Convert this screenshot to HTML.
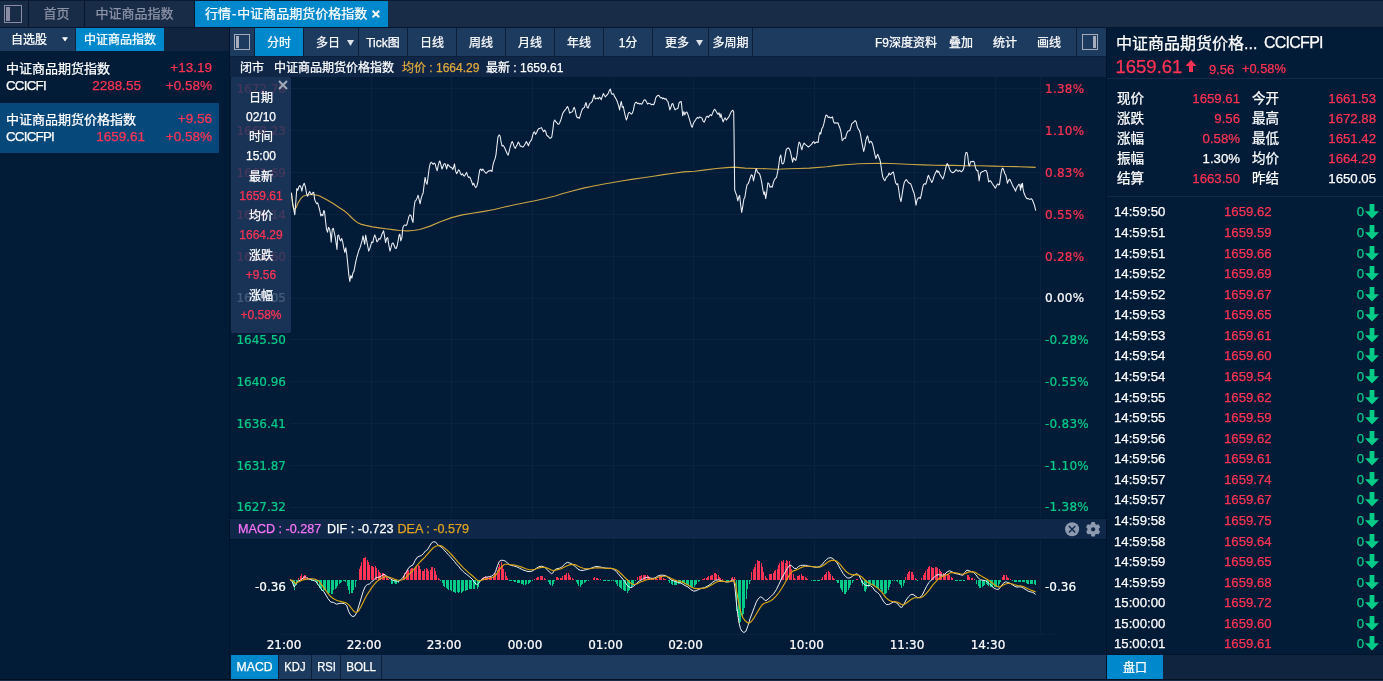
<!DOCTYPE html>
<html lang="zh-CN">
<head>
<meta charset="utf-8">
<title>行情-中证商品期货价格指数</title>
<style>
*{box-sizing:border-box;margin:0;padding:0}
html,body{width:1383px;height:681px;overflow:hidden;background:#021b36}
body{position:relative;font-family:"Liberation Sans","Noto Sans CJK SC",sans-serif;color:#fff;font-size:13px;-webkit-text-stroke:.25px}
.abs{position:absolute}
.t{position:absolute;white-space:nowrap;line-height:1}
.red{color:#ff3355}.grn{color:#00cc88}.wht{color:#fff}.gold{color:#e2a93b}
/* top bar */
#topbar{left:0;top:0;width:1383px;height:28px;background:#182b47;border-top:1px solid #0b1a30;border-bottom:1px solid #07162b}
.vsep{position:absolute;top:1px;width:1px;height:26px;background:#07162b}
.toptab{position:absolute;top:1px;height:26px;line-height:25px;font-size:13px;color:#8d93a6;text-align:center}
#acttab{left:195px;width:193px;background:#0088cc;color:#fff}
/* left panel */
#lrow{left:0;top:28px;width:229px;height:23px;background:#10233f}
.ltab{position:absolute;top:28px;height:23px;line-height:24px;font-size:12px}
.li{position:absolute;left:0;width:219px;height:50px}
.li .t{font-size:13px}
.li .t.lat{font-size:13.4px;letter-spacing:-.8px}
.li .t.num{font-size:13.5px}
/* toolbar */
#tbar{left:230px;top:28px;width:877px;height:28px;background:#1d3a5f}
.tb{position:absolute;top:28px;height:28px;line-height:31px;font-size:12px;text-align:center;color:#fff}
.tsep{position:absolute;top:28px;width:1px;height:28px;background:#0b1f3b}
#ibar{left:230px;top:57px;width:877px;height:20px;background:#0f2647}
#ibar .t{font-size:12px;top:5px}
/* tooltip */
#tip{left:231px;top:77px;width:60px;height:256px;background:rgba(30,57,93,.83);border-radius:2px;text-align:center}
#tip div{position:absolute;left:0;width:60px;font-size:12px;line-height:1;text-align:center}
/* macd bar */
#mbar{left:230px;top:519px;width:876px;height:20px;background:#0f2849}
#mbar .t{font-size:12.6px;top:4px}
/* bottom */
#bbar{left:230px;top:655px;width:877px;height:24px;background:#1d3a5f}
.bt{position:absolute;top:655px;height:24px;line-height:25px;font-size:12.6px;text-align:center;color:#fff}
.bt i{font-style:normal;display:inline-block;transform:scaleX(.89)}
.bsep{position:absolute;top:655px;width:1px;height:24px;background:#0b1f3b}
/* right panel */
#rp .t{font-size:13px}
.hl{position:absolute;height:1px;background:#12294a}
.q{position:absolute;font-size:13.2px;line-height:1;white-space:nowrap}
.qr{position:absolute;font-size:13.2px;line-height:1;white-space:nowrap;text-align:right}
.tk{position:absolute;left:1107px;width:276px;height:20px;font-size:13.2px;line-height:1}
.q.c{font-size:13.5px}
.tk span{position:absolute;top:0;white-space:nowrap}
.tk .a{left:7px;color:#fff}
.tk .b{left:117px;color:#ff3355}
.tk .c{right:19px;color:#00cc88}
.tk svg{position:absolute;right:4px;top:-1px}
</style>
</head>
<body>
<!-- TOP BAR -->
<div id="topbar" class="abs"></div>
<div class="vsep" style="left:28px"></div>
<div class="vsep" style="left:84px"></div>
<div class="vsep" style="left:194px"></div>
<svg class="abs" style="left:4px;top:5px" width="18" height="18"><rect x=".5" y=".5" width="17" height="17" fill="none" stroke="#8a8ca3"/><rect x="2" y="2" width="4" height="14" fill="#8a8ca3"/></svg>
<div class="toptab" style="left:29px;width:55px">首页</div>
<div class="toptab" style="left:85px;width:99px">中证商品指数</div>
<div class="toptab" id="acttab"><span style="position:absolute;left:10px">行情<span style="margin:0 1px">-</span>中证商品期货价格指数</span><span style="position:absolute;left:176.5px;font-size:15px;font-weight:bold">×</span></div>

<!-- LEFT PANEL -->
<div id="lrow" class="abs"></div>
<div class="ltab" style="left:0;width:75px;background:#1d3a5f"><span style="position:absolute;left:11px">自选股</span><svg style="position:absolute;left:62px;top:9px" width="7" height="5"><path d="M0 .3h6L3 4.4z" fill="#fff"/></svg></div>
<div class="ltab" style="left:76px;width:88px;background:#0088cc;text-align:center">中证商品指数</div>

<div class="li" style="top:53px">
  <span class="t" style="left:6px;top:8.5px">中证商品期货指数</span>
  <span class="t red num" style="right:7px;top:8.3px">+13.19</span>
  <span class="t lat" style="left:6px;top:26.3px">CCICFI</span>
  <span class="t red num" style="right:78px;top:26.3px">2288.55</span>
  <span class="t red num" style="right:7px;top:26.3px">+0.58%</span>
</div>
<div class="li" style="top:103px;background:#07487a">
  <span class="t" style="left:6px;top:9.5px">中证商品期货价格指数</span>
  <span class="t red num" style="right:7px;top:9.3px">+9.56</span>
  <span class="t lat" style="left:6px;top:27.3px">CCICFPI</span>
  <span class="t red num" style="right:74px;top:27.3px">1659.61</span>
  <span class="t red num" style="right:7px;top:27.3px">+0.58%</span>
</div>
<div class="abs" style="left:229px;top:28px;width:1px;height:651px;background:#01132a"></div>

<!-- TOOLBAR -->
<div id="tbar" class="abs"></div>
<div class="abs" style="left:230px;top:56px;width:877px;height:1px;background:#0b1f3b"></div>
<svg class="abs" style="left:234px;top:34px" width="16" height="16"><rect x=".5" y=".5" width="15" height="15" fill="none" stroke="#a5acbb"/><rect x="2" y="2" width="3" height="12" fill="#a5acbb"/></svg>
<div class="tsep" style="left:254px"></div>
<div class="tb" style="left:255px;width:48px;background:#0088cc">分时</div>
<div class="tsep" style="left:303px"></div>
<div class="tb" style="left:304px;width:54px"><span style="position:absolute;left:12px">多日</span><svg style="position:absolute;left:42.5px;top:11.5px" width="7" height="6"><path d="M0 0h7L3.5 6z" fill="#dde1e8"/></svg></div>
<div class="tsep" style="left:358px"></div>
<div class="tb" style="left:359px;width:48px">Tick图</div>
<div class="tsep" style="left:407px"></div>
<div class="tb" style="left:408px;width:48px">日线</div>
<div class="tsep" style="left:456px"></div>
<div class="tb" style="left:457px;width:48px">周线</div>
<div class="tsep" style="left:505px"></div>
<div class="tb" style="left:506px;width:48px">月线</div>
<div class="tsep" style="left:554px"></div>
<div class="tb" style="left:555px;width:48px">年线</div>
<div class="tsep" style="left:603px"></div>
<div class="tb" style="left:604px;width:48px">1分</div>
<div class="tsep" style="left:652px"></div>
<div class="tb" style="left:653px;width:55px"><span style="position:absolute;left:12px">更多</span><svg style="position:absolute;left:42.5px;top:11.5px" width="7" height="6"><path d="M0 0h7L3.5 6z" fill="#dde1e8"/></svg></div>
<div class="tsep" style="left:708px"></div>
<div class="tb" style="left:709px;width:43px">多周期</div>
<div class="tsep" style="left:752px"></div>
<div class="tb" style="left:875px">F9深度资料</div>
<div class="tb" style="left:949px">叠加</div>
<div class="tb" style="left:993px">统计</div>
<div class="tb" style="left:1037px">画线</div>
<div class="tsep" style="left:1076px"></div>
<svg class="abs" style="left:1082px;top:34px" width="16" height="16"><rect x=".5" y=".5" width="15" height="15" fill="none" stroke="#a5acbb"/><rect x="11" y="2" width="3" height="12" fill="#a5acbb"/></svg>

<!-- INFO BAR -->
<div id="ibar" class="abs">
  <span class="t" style="left:10px">闭市</span>
  <span class="t" style="left:44px">中证商品期货价格指数</span>
  <span class="t gold" style="left:172px">均价 : 1664.29</span>
  <span class="t" style="left:256px">最新 : 1659.61</span>
</div>

<!-- CHART SVG -->
<svg id="chart" class="abs" style="left:230px;top:77px" width="877" height="578" viewBox="230 77 877 578" font-family="'DejaVu Sans','Liberation Sans',sans-serif" font-size="12">
<g stroke="#0a2240" stroke-width="1" fill="none" shape-rendering="crispEdges"><line x1="290" x2="1040" y1="88.5" y2="88.5"/><line x1="290" x2="1040" y1="130.5" y2="130.5"/><line x1="290" x2="1040" y1="172.5" y2="172.5"/><line x1="290" x2="1040" y1="214.5" y2="214.5"/><line x1="290" x2="1040" y1="256.5" y2="256.5"/><line x1="290" x2="1040" y1="298.5" y2="298.5"/><line x1="290" x2="1040" y1="339.5" y2="339.5"/><line x1="290" x2="1040" y1="381.5" y2="381.5"/><line x1="290" x2="1040" y1="423.5" y2="423.5"/><line x1="290" x2="1040" y1="465.5" y2="465.5"/><line x1="290" x2="1040" y1="507.5" y2="507.5"/><line x1="371.5" x2="371.5" y1="77" y2="519"/><line x1="371.5" x2="371.5" y1="540" y2="634"/><line x1="451.5" x2="451.5" y1="77" y2="519"/><line x1="451.5" x2="451.5" y1="540" y2="634"/><line x1="532.5" x2="532.5" y1="77" y2="519"/><line x1="532.5" x2="532.5" y1="540" y2="634"/><line x1="613.5" x2="613.5" y1="77" y2="519"/><line x1="613.5" x2="613.5" y1="540" y2="634"/><line x1="693.5" x2="693.5" y1="77" y2="519"/><line x1="693.5" x2="693.5" y1="540" y2="634"/><line x1="814.5" x2="814.5" y1="77" y2="519"/><line x1="814.5" x2="814.5" y1="540" y2="634"/><line x1="914.5" x2="914.5" y1="77" y2="519"/><line x1="914.5" x2="914.5" y1="540" y2="634"/><line x1="995.5" x2="995.5" y1="77" y2="519"/><line x1="995.5" x2="995.5" y1="540" y2="634"/><line x1="1040.5" x2="1040.5" y1="77" y2="519"/><line x1="1040.5" x2="1040.5" y1="540" y2="634"/><line x1="290" x2="1040" y1="587.5" y2="587.5"/><line x1="280" x2="1055" y1="634.5" y2="634.5"/></g>
<g stroke-width=".22"><text x="286" y="92.8" text-anchor="end" fill="#ff3355" stroke="#ff3355">1672.78</text><text x="1045" y="92.8" fill="#ff3355" stroke="#ff3355" letter-spacing=".25">1.38%</text><text x="286" y="134.8" text-anchor="end" fill="#ff3355" stroke="#ff3355">1668.23</text><text x="1045" y="134.8" fill="#ff3355" stroke="#ff3355" letter-spacing=".25">1.10%</text><text x="286" y="176.7" text-anchor="end" fill="#ff3355" stroke="#ff3355">1663.69</text><text x="1045" y="176.7" fill="#ff3355" stroke="#ff3355" letter-spacing=".25">0.83%</text><text x="286" y="218.6" text-anchor="end" fill="#ff3355" stroke="#ff3355">1659.14</text><text x="1045" y="218.6" fill="#ff3355" stroke="#ff3355" letter-spacing=".25">0.55%</text><text x="286" y="260.5" text-anchor="end" fill="#ff3355" stroke="#ff3355">1654.60</text><text x="1045" y="260.5" fill="#ff3355" stroke="#ff3355" letter-spacing=".25">0.28%</text><text x="286" y="301.6" text-anchor="end" fill="#ffffff" stroke="#ffffff">1650.05</text><text x="1045" y="301.6" fill="#ffffff" stroke="#ffffff" letter-spacing=".25">0.00%</text><text x="286" y="343.9" text-anchor="end" fill="#00cc88" stroke="#00cc88">1645.50</text><text x="1045" y="343.9" fill="#00cc88" stroke="#00cc88" letter-spacing=".25">-0.28%</text><text x="286" y="385.9" text-anchor="end" fill="#00cc88" stroke="#00cc88">1640.96</text><text x="1045" y="385.9" fill="#00cc88" stroke="#00cc88" letter-spacing=".25">-0.55%</text><text x="286" y="427.7" text-anchor="end" fill="#00cc88" stroke="#00cc88">1636.41</text><text x="1045" y="427.7" fill="#00cc88" stroke="#00cc88" letter-spacing=".25">-0.83%</text><text x="286" y="469.7" text-anchor="end" fill="#00cc88" stroke="#00cc88">1631.87</text><text x="1045" y="469.7" fill="#00cc88" stroke="#00cc88" letter-spacing=".25">-1.10%</text><text x="286" y="511.2" text-anchor="end" fill="#00cc88" stroke="#00cc88">1627.32</text><text x="1045" y="511.2" fill="#00cc88" stroke="#00cc88" letter-spacing=".25">-1.38%</text><text x="286" y="591" text-anchor="end" fill="#fff" stroke="#fff">-0.36</text><text x="1045" y="591" fill="#fff" stroke="#fff">-0.36</text><text x="284.0" y="648.6" text-anchor="middle" fill="#fff" stroke="#fff">21:00</text><text x="364.0" y="648.6" text-anchor="middle" fill="#fff" stroke="#fff">22:00</text><text x="444.0" y="648.6" text-anchor="middle" fill="#fff" stroke="#fff">23:00</text><text x="525.0" y="648.6" text-anchor="middle" fill="#fff" stroke="#fff">00:00</text><text x="605.5" y="648.6" text-anchor="middle" fill="#fff" stroke="#fff">01:00</text><text x="685.5" y="648.6" text-anchor="middle" fill="#fff" stroke="#fff">02:00</text><text x="806.5" y="648.6" text-anchor="middle" fill="#fff" stroke="#fff">10:00</text><text x="907.0" y="648.6" text-anchor="middle" fill="#fff" stroke="#fff">11:30</text><text x="988.0" y="648.6" text-anchor="middle" fill="#fff" stroke="#fff">14:30</text></g>
<path d="M298 580.0V577.7M300 580.0V575.7M301 580.0V574.1M303 580.0V575.5M304 580.0V574.9M305 580.0V574.6M307 580.0V577.4M308 580.0V579.5M359 580.0V568.7M360 580.0V566.0M361 580.0V561.6M363 580.0V557.6M364 580.0V558.0M365 580.0V557.0M367 580.0V560.2M368 580.0V561.6M369 580.0V565.0M371 580.0V566.3M372 580.0V566.1M373 580.0V566.5M375 580.0V565.7M376 580.0V567.7M378 580.0V570.2M379 580.0V572.1M380 580.0V572.8M382 580.0V573.2M383 580.0V572.7M384 580.0V574.6M386 580.0V576.9M387 580.0V578.0M388 580.0V579.3M403 580.0V576.1M404 580.0V573.0M406 580.0V571.7M407 580.0V570.1M408 580.0V569.8M410 580.0V569.0M411 580.0V568.4M412 580.0V567.7M414 580.0V568.4M415 580.0V567.0M416 580.0V566.2M418 580.0V565.1M419 580.0V566.1M420 580.0V568.8M422 580.0V570.7M423 580.0V570.6M424 580.0V568.9M426 580.0V568.4M427 580.0V569.3M428 580.0V571.1M430 580.0V569.6M431 580.0V567.3M432 580.0V567.1M434 580.0V568.3M435 580.0V570.7M436 580.0V574.6M438 580.0V577.8M439 580.0V579.4M482 580.0V577.7M483 580.0V576.7M485 580.0V576.4M486 580.0V576.6M487 580.0V576.6M489 580.0V576.6M490 580.0V576.8M491 580.0V576.6M493 580.0V575.5M494 580.0V574.4M495 580.0V573.0M497 580.0V569.7M498 580.0V566.8M499 580.0V563.9M501 580.0V561.8M502 580.0V566.1M503 580.0V569.3M505 580.0V571.9M506 580.0V576.0M507 580.0V578.4M534 580.0V578.9M536 580.0V578.1M537 580.0V577.4M538 580.0V576.7M540 580.0V576.3M541 580.0V575.9M542 580.0V576.4M544 580.0V578.1M545 580.0V579.0M556 580.0V577.3M557 580.0V576.6M558 580.0V577.5M560 580.0V578.0M561 580.0V577.6M562 580.0V576.1M564 580.0V574.8M565 580.0V574.6M566 580.0V573.4M568 580.0V573.1M569 580.0V575.4M570 580.0V576.9M572 580.0V578.2M573 580.0V579.2M592 580.0V579.5M593 580.0V578.2M594 580.0V577.0M596 580.0V577.8M597 580.0V578.2M598 580.0V578.9M600 580.0V579.4M637 580.0V576.6M639 580.0V576.1M640 580.0V575.7M641 580.0V575.4M643 580.0V575.4M644 580.0V574.7M645 580.0V574.9M647 580.0V575.4M648 580.0V576.2M649 580.0V577.3M651 580.0V577.9M652 580.0V578.2M653 580.0V578.5M655 580.0V578.2M656 580.0V577.6M657 580.0V578.8M659 580.0V576.6M660 580.0V577.1M661 580.0V577.3M663 580.0V577.9M664 580.0V578.5M665 580.0V579.1M702 580.0V578.7M703 580.0V578.5M704 580.0V578.1M706 580.0V577.5M707 580.0V576.6M708 580.0V576.2M710 580.0V575.6M711 580.0V574.9M712 580.0V574.5M714 580.0V573.1M715 580.0V572.5M716 580.0V573.8M718 580.0V574.6M719 580.0V576.7M720 580.0V578.0M722 580.0V578.8M731 580.0V578.2M732 580.0V577.0M734 580.0V577.3M735 580.0V578.9M751 580.0V572.3M753 580.0V568.9M754 580.0V566.5M755 580.0V564.4M757 580.0V560.4M758 580.0V560.5M759 580.0V561.2M761 580.0V562.8M762 580.0V566.7M763 580.0V572.3M765 580.0V576.0M766 580.0V578.4M767 580.0V579.4M769 580.0V574.2M770 580.0V573.7M771 580.0V573.6M773 580.0V572.9M774 580.0V571.4M775 580.0V570.2M777 580.0V569.0M778 580.0V565.4M779 580.0V563.3M781 580.0V560.6M782 580.0V561.8M783 580.0V560.3M785 580.0V562.7M786 580.0V560.2M787 580.0V560.9M789 580.0V561.3M790 580.0V564.5M791 580.0V569.4M793 580.0V574.2M794 580.0V577.6M795 580.0V579.1M797 580.0V576.4M798 580.0V575.6M799 580.0V574.7M801 580.0V574.4M802 580.0V575.8M803 580.0V576.4M805 580.0V576.7M806 580.0V577.5M807 580.0V578.7M809 580.0V579.6M821 580.0V578.8M822 580.0V577.2M824 580.0V575.4M825 580.0V574.0M826 580.0V571.5M828 580.0V571.2M829 580.0V572.3M830 580.0V573.6M832 580.0V575.7M833 580.0V578.1M834 580.0V579.3M856 580.0V579.0M857 580.0V579.0M858 580.0V579.5M905 580.0V576.6M907 580.0V573.7M908 580.0V572.2M909 580.0V570.7M911 580.0V571.6M912 580.0V571.9M913 580.0V574.8M915 580.0V578.2M916 580.0V579.4M921 580.0V577.9M923 580.0V575.3M924 580.0V572.6M925 580.0V571.0M927 580.0V568.6M928 580.0V566.9M929 580.0V565.7M931 580.0V566.6M932 580.0V567.7M933 580.0V567.8M935 580.0V567.1M936 580.0V567.2M937 580.0V567.7M939 580.0V569.2M940 580.0V570.7M941 580.0V571.8M943 580.0V572.8M944 580.0V573.8M945 580.0V573.9M947 580.0V574.0M948 580.0V573.8M949 580.0V575.0M951 580.0V576.5M952 580.0V578.4M967 580.0V575.3M968 580.0V575.1M969 580.0V576.6M971 580.0V577.8M972 580.0V578.3M974 580.0V579.1M1002 580.0V576.9M1003 580.0V575.1M1004 580.0V574.6M1006 580.0V575.4M1007 580.0V576.9M1008 580.0V578.0M1010 580.0V579.1" stroke="#ff3355" stroke-width="1" fill="none" shape-rendering="crispEdges"/>
<path d="M292 580.0V583.0M293 580.0V586.0M294 580.0V589.8M296 580.0V584.6M297 580.0V581.3M309 580.0V580.4M311 580.0V580.7M312 580.0V581.1M313 580.0V581.1M315 580.0V580.7M316 580.0V582.1M317 580.0V585.1M319 580.0V587.5M320 580.0V588.0M321 580.0V590.7M323 580.0V590.5M324 580.0V590.0M325 580.0V591.2M327 580.0V592.4M328 580.0V593.6M329 580.0V593.2M331 580.0V594.1M332 580.0V593.9M333 580.0V590.1M335 580.0V589.4M336 580.0V587.9M337 580.0V585.8M339 580.0V584.4M340 580.0V583.3M341 580.0V581.9M343 580.0V581.1M344 580.0V580.8M345 580.0V582.2M347 580.0V585.7M348 580.0V590.4M349 580.0V594.3M351 580.0V593.4M352 580.0V593.3M353 580.0V590.2M355 580.0V586.5M356 580.0V581.3M357 580.0V580.4M391 580.0V583.7M392 580.0V583.9M394 580.0V583.0M395 580.0V583.5M396 580.0V583.7M398 580.0V582.9M399 580.0V581.0M440 580.0V581.2M442 580.0V583.0M443 580.0V585.5M444 580.0V586.8M446 580.0V587.9M447 580.0V588.9M448 580.0V589.6M450 580.0V589.5M451 580.0V591.1M453 580.0V591.6M454 580.0V592.3M455 580.0V592.5M457 580.0V592.2M458 580.0V592.5M459 580.0V591.9M461 580.0V592.5M462 580.0V591.5M463 580.0V591.0M465 580.0V590.7M466 580.0V590.0M467 580.0V589.6M469 580.0V588.8M470 580.0V588.5M471 580.0V588.6M473 580.0V588.6M474 580.0V589.4M475 580.0V585.1M477 580.0V589.3M478 580.0V586.8M479 580.0V582.9M481 580.0V580.4M509 580.0V581.4M510 580.0V580.9M511 580.0V580.9M513 580.0V581.1M514 580.0V581.7M515 580.0V582.2M517 580.0V582.8M518 580.0V582.9M519 580.0V583.3M521 580.0V583.7M522 580.0V584.2M523 580.0V584.9M525 580.0V584.8M526 580.0V584.1M528 580.0V583.5M529 580.0V583.0M530 580.0V582.3M532 580.0V581.3M533 580.0V580.4M548 580.0V581.9M549 580.0V584.0M550 580.0V585.3M552 580.0V586.3M553 580.0V584.3M554 580.0V580.9M576 580.0V581.5M577 580.0V583.5M578 580.0V585.8M580 580.0V586.6M581 580.0V584.8M582 580.0V583.5M584 580.0V582.5M585 580.0V581.6M586 580.0V581.0M588 580.0V580.5M603 580.0V580.7M604 580.0V580.7M605 580.0V580.7M607 580.0V580.8M608 580.0V580.8M609 580.0V580.7M611 580.0V580.6M613 580.0V581.0M615 580.0V582.3M616 580.0V583.8M617 580.0V585.5M619 580.0V586.8M620 580.0V588.4M621 580.0V589.4M623 580.0V589.6M624 580.0V590.6M625 580.0V591.2M627 580.0V592.9M628 580.0V591.0M629 580.0V590.2M631 580.0V587.8M632 580.0V585.7M633 580.0V583.5M635 580.0V581.4M636 580.0V580.4M668 580.0V581.2M669 580.0V582.9M671 580.0V583.9M672 580.0V584.6M674 580.0V584.8M675 580.0V585.2M676 580.0V585.0M678 580.0V584.4M679 580.0V583.9M680 580.0V583.2M682 580.0V582.8M683 580.0V583.4M684 580.0V584.3M686 580.0V584.8M687 580.0V585.4M688 580.0V586.0M690 580.0V586.4M691 580.0V587.3M692 580.0V587.9M694 580.0V587.0M695 580.0V585.2M696 580.0V583.6M698 580.0V582.0M699 580.0V580.7M726 580.0V580.5M727 580.0V580.7M728 580.0V580.6M736 580.0V611.3M738 580.0V616.8M739 580.0V622.5M740 580.0V622.3M742 580.0V617.5M743 580.0V613.8M744 580.0V608.2M746 580.0V598.5M747 580.0V588.6M749 580.0V583.6M750 580.0V580.6M811 580.0V580.8M813 580.0V580.9M814 580.0V581.0M815 580.0V581.1M817 580.0V581.2M818 580.0V581.4M819 580.0V580.6M836 580.0V581.4M837 580.0V583.0M838 580.0V583.2M840 580.0V588.0M841 580.0V590.2M842 580.0V592.1M844 580.0V593.6M845 580.0V593.5M846 580.0V592.4M848 580.0V589.8M849 580.0V587.8M850 580.0V584.8M852 580.0V582.5M853 580.0V580.8M861 580.0V582.5M862 580.0V586.3M864 580.0V590.7M865 580.0V592.3M866 580.0V589.0M868 580.0V587.2M869 580.0V585.4M870 580.0V585.4M872 580.0V585.3M873 580.0V585.5M874 580.0V586.0M876 580.0V587.5M877 580.0V587.8M878 580.0V588.8M880 580.0V589.2M881 580.0V590.8M882 580.0V592.3M884 580.0V593.5M885 580.0V593.7M886 580.0V593.1M888 580.0V589.8M889 580.0V587.3M890 580.0V583.9M892 580.0V581.3M893 580.0V580.4M894 580.0V580.5M896 580.0V581.3M897 580.0V582.1M899 580.0V583.6M900 580.0V585.4M901 580.0V587.5M903 580.0V585.6M904 580.0V582.6M917 580.0V580.8M955 580.0V580.7M956 580.0V581.0M957 580.0V581.2M959 580.0V581.3M960 580.0V581.2M961 580.0V581.2M963 580.0V580.9M964 580.0V580.8M965 580.0V580.4M976 580.0V583.7M978 580.0V585.6M979 580.0V587.7M980 580.0V588.2M982 580.0V587.2M983 580.0V586.2M984 580.0V585.3M986 580.0V584.1M987 580.0V584.9M988 580.0V586.2M990 580.0V587.1M991 580.0V587.0M992 580.0V587.4M994 580.0V586.9M995 580.0V586.8M996 580.0V586.5M998 580.0V585.9M999 580.0V583.8M1000 580.0V581.6M1012 580.0V580.8M1014 580.0V581.7M1015 580.0V582.2M1016 580.0V582.3M1018 580.0V581.9M1019 580.0V581.6M1020 580.0V581.5M1022 580.0V582.0M1023 580.0V582.0M1024 580.0V582.0M1026 580.0V582.9M1027 580.0V584.2M1028 580.0V584.4M1030 580.0V584.4M1031 580.0V583.7M1032 580.0V583.5M1034 580.0V584.3M1035 580.0V585.2" stroke="#00cc88" stroke-width="1" fill="none" shape-rendering="crispEdges"/>
<polyline fill="none" stroke="#c9a544" stroke-width="1.15" stroke-linejoin="round" points="291.4,192.8 292.4,202.1 293.4,208.0 294.8,209.2 296.4,207.2 298.1,202.9 300.7,198.7 303.2,196.2 306.6,195.0 311.6,194.5 315.9,195.0 319.2,195.8 323.5,197.9 328.5,200.7 333.6,203.8 338.7,207.2 343.7,210.5 347.1,213.1 350.5,216.5 353.9,219.8 357.3,222.4 360.6,224.1 365.7,225.4 372.5,226.9 379.2,227.9 386.0,228.8 392.7,229.6 399.5,230.5 404.6,230.8 409.6,230.8 414.7,230.3 419.8,229.5 430.1,226.1 440.3,221.7 451.6,217.6 462.2,214.9 472.4,213.2 482.5,211.6 494.3,209.5 504.5,207.0 514.6,204.8 524.7,202.8 534.9,200.7 545.0,198.5 555.1,196.0 562.1,193.8 572.3,191.0 582.4,188.4 592.5,186.2 602.7,184.2 612.8,182.5 622.9,180.8 633.1,179.1 643.2,177.8 653.4,176.3 663.5,174.6 673.6,173.2 683.8,171.9 694.8,171.2 705.5,169.9 716.3,168.5 727.0,167.6 734.2,167.1 744.9,168.1 755.7,168.5 766.5,168.8 777.2,169.2 788.0,168.8 798.7,168.5 809.5,168.1 826.8,166.7 837.5,165.4 848.3,164.5 859.0,163.8 869.8,163.5 880.5,163.3 891.3,163.5 902.0,164.0 912.8,164.5 923.5,164.9 934.3,165.3 945.1,165.4 953.2,165.4 966.4,165.7 979.7,165.7 992.9,166.1 1006.1,166.5 1019.3,166.7 1029.9,167.1 1035.7,167.4"/>
<polyline fill="none" stroke="#eef1f6" stroke-width="1.05" stroke-linejoin="round" points="291.4,192.8 292.7,203.8 294.8,214.8 295.8,202.1 296.8,188.6 297.8,190.3 298.8,186.9 299.8,185.5 300.8,186.9 301.9,191.1 302.9,186.0 304.2,183.2 305.4,186.9 306.6,193.6 307.6,196.2 308.6,193.6 309.6,191.6 310.6,193.6 311.6,194.5 312.7,192.8 313.7,192.3 314.7,199.6 315.7,202.1 316.7,203.8 317.7,202.9 318.7,206.3 319.8,210.5 320.8,215.9 321.8,214.3 322.8,215.6 323.8,210.5 324.5,211.4 325.5,220.7 326.5,229.1 327.5,232.2 328.5,227.4 329.6,229.1 330.6,235.0 331.2,242.3 332.3,229.1 333.3,228.3 334.3,232.5 335.3,237.6 336.3,244.3 337.0,249.4 337.7,235.9 338.7,235.0 339.7,239.3 340.7,240.9 341.7,238.4 342.7,241.8 343.7,247.7 344.8,252.4 345.8,247.7 346.8,254.5 347.8,264.6 348.8,274.7 349.8,281.5 350.8,275.6 351.9,278.1 352.9,273.0 353.9,271.4 354.9,266.3 355.9,261.2 356.9,257.0 357.9,253.6 358.9,250.2 360.0,247.7 361.0,244.3 362.0,240.9 363.0,235.9 364.0,240.9 364.7,244.3 365.7,235.0 366.7,240.9 367.7,246.0 368.7,251.1 369.8,248.5 370.8,245.2 371.8,241.8 372.8,242.6 373.8,237.6 374.8,235.0 375.8,237.6 376.9,241.8 377.9,240.9 378.9,238.4 379.9,239.3 380.9,237.6 381.9,234.2 382.9,232.2 383.6,230.8 384.6,236.7 385.6,242.6 386.6,238.4 387.7,237.6 388.7,244.3 390.0,251.1 391.0,247.7 392.1,243.5 393.1,243.0 394.1,245.2 395.1,248.0 396.1,248.5 397.1,246.0 398.1,240.9 399.1,235.0 399.8,234.2 400.8,240.9 401.9,237.6 402.9,227.4 403.9,225.4 404.9,224.9 405.9,225.7 406.9,224.4 407.9,220.7 408.9,216.5 410.0,214.8 411.0,215.6 412.0,219.8 413.0,222.4 414.0,208.0 415.0,201.2 416.0,200.4 417.1,197.9 418.1,195.3 419.1,199.6 420.1,203.8 421.1,198.7 422.1,195.3 423.1,193.3 424.4,182.5 425.1,177.4 426.1,182.5 427.1,184.2 428.1,176.6 429.1,169.0 430.1,163.9 431.1,162.2 432.2,163.1 433.2,164.3 434.2,163.1 435.2,163.9 436.2,168.1 437.2,170.7 438.2,165.6 439.3,161.4 439.9,161.0 440.9,164.8 442.0,169.0 443.0,166.5 444.0,163.9 445.0,163.6 446.0,166.5 446.7,169.0 447.7,164.3 448.7,165.3 449.7,166.5 450.7,167.3 451.8,167.8 452.8,169.5 453.8,166.5 454.5,163.9 455.5,170.7 456.5,173.7 457.5,172.4 458.5,169.8 459.5,170.7 460.5,173.7 461.6,174.9 462.6,173.7 463.6,175.7 464.6,176.1 465.6,174.1 466.6,172.4 467.6,175.7 468.6,177.4 469.7,177.1 470.7,179.1 471.7,181.7 472.7,185.0 473.7,183.3 474.7,185.9 475.7,187.6 476.8,186.2 477.8,182.5 478.8,175.7 479.8,169.8 480.8,169.0 481.8,170.7 482.8,169.0 483.9,170.7 484.9,172.0 485.9,173.2 486.9,172.7 487.9,171.5 488.9,170.7 489.9,171.0 490.9,170.3 492.0,171.5 493.0,164.8 494.0,161.4 495.0,158.9 496.0,154.6 497.0,145.3 498.0,136.9 499.1,134.9 500.1,136.0 501.1,142.0 502.1,146.2 503.1,145.3 504.1,146.7 505.1,148.7 506.1,151.2 507.2,153.8 508.2,155.1 509.2,151.2 510.2,147.0 511.2,143.6 512.2,141.6 513.2,143.6 514.3,147.0 515.3,148.4 516.3,146.2 517.3,144.5 518.3,142.0 519.3,143.6 520.3,146.2 521.4,146.2 522.4,147.0 523.4,146.7 524.4,145.3 525.4,143.6 526.4,141.6 527.4,143.6 528.4,145.7 529.5,142.8 530.5,141.1 531.5,139.9 532.5,136.0 533.5,132.7 534.5,131.8 535.5,134.4 536.6,132.7 537.6,130.1 538.6,128.8 539.6,128.4 540.6,128.1 541.6,127.6 542.6,130.1 543.6,131.8 544.7,130.1 545.7,131.5 546.7,135.2 547.7,136.0 548.7,136.9 549.7,138.2 550.7,138.2 551.8,136.9 552.8,130.1 553.8,121.7 554.8,120.0 555.8,121.7 556.7,122.5 557.7,123.9 558.8,124.2 559.8,122.5 560.8,120.0 561.8,116.6 562.8,113.2 563.8,111.6 564.8,110.4 565.9,109.0 566.9,107.3 567.5,106.5 568.6,109.0 569.6,113.2 570.6,112.4 571.6,112.1 572.6,111.6 573.6,108.2 574.3,107.3 575.3,110.7 576.3,115.8 577.3,117.8 578.4,117.5 579.4,118.3 580.4,114.9 581.4,111.6 582.4,109.0 583.4,108.2 584.4,107.3 585.4,104.0 586.1,102.6 587.1,107.3 588.1,108.2 589.2,104.8 590.2,103.1 591.2,102.6 592.2,101.4 593.2,98.0 594.2,94.7 595.2,98.9 596.3,98.6 597.3,98.0 598.3,98.9 599.3,97.2 600.3,98.0 601.3,99.7 602.3,96.4 603.4,93.5 604.4,95.5 605.4,96.9 606.4,95.5 607.4,94.7 608.4,93.0 609.4,90.4 610.4,89.1 611.5,93.8 612.5,94.2 613.5,93.8 614.5,96.4 615.5,98.0 616.5,99.7 617.5,102.3 618.6,105.6 619.6,109.9 620.6,104.0 621.3,101.4 622.3,107.3 623.3,106.5 624.3,111.6 625.3,115.8 626.3,120.0 627.3,117.5 628.4,113.2 629.4,112.4 630.4,113.2 631.4,114.1 632.4,113.2 633.4,109.9 634.4,104.8 635.4,102.6 636.5,102.3 637.5,103.6 638.5,103.1 639.5,104.0 640.5,103.6 641.5,104.3 642.5,103.1 643.6,100.6 644.6,99.7 645.6,100.2 646.6,102.3 647.6,104.0 648.6,103.1 649.6,103.6 650.6,104.0 651.7,104.8 652.7,104.3 653.7,104.8 654.7,102.3 655.7,98.0 656.7,96.4 657.7,95.5 658.8,95.2 659.8,96.9 660.8,98.0 661.8,97.5 662.8,98.9 663.8,98.0 664.8,99.2 665.9,98.6 666.9,100.6 667.9,101.4 668.9,105.6 669.9,109.9 670.9,107.3 671.9,104.0 672.9,103.6 674.0,107.3 675.0,109.9 676.0,109.0 677.0,108.7 678.0,108.2 679.0,103.1 680.0,101.9 681.1,101.4 681.7,105.6 682.7,115.8 683.8,111.6 684.8,114.9 685.8,112.4 686.8,112.1 687.8,114.1 688.3,115.6 689.4,119.2 690.5,122.8 691.5,126.4 692.2,127.3 693.3,123.7 694.4,121.5 695.5,120.1 696.5,118.3 697.6,117.4 698.7,118.3 699.8,116.9 700.8,117.4 701.9,117.9 703.0,121.0 704.1,122.2 705.2,120.1 706.2,116.9 707.3,116.2 708.4,117.4 709.5,115.6 710.5,114.7 711.6,115.6 712.7,112.9 713.8,110.2 714.8,109.3 715.9,111.1 717.0,112.9 718.1,114.4 719.1,112.9 720.2,117.4 720.9,113.8 722.0,118.3 723.1,121.9 724.2,119.2 725.2,117.9 726.3,120.1 727.4,118.7 728.5,117.4 729.5,115.6 730.6,112.9 731.7,111.1 732.8,110.2 733.7,112.0 734.0,130.8 734.4,166.7 734.7,190.0 735.6,192.7 736.7,195.4 737.8,200.8 738.8,197.2 739.6,195.4 740.6,204.3 741.7,212.4 742.8,206.1 743.9,199.0 744.9,197.2 746.0,190.0 747.1,184.6 748.2,183.7 749.2,181.0 750.3,177.5 751.4,174.8 752.5,175.7 753.5,181.0 754.6,175.7 755.7,170.3 756.4,168.8 757.5,172.1 758.6,173.0 759.6,173.9 760.7,177.5 761.8,182.8 762.9,190.0 763.9,194.5 764.7,191.8 765.7,198.6 766.8,191.8 767.9,182.8 769.0,183.7 770.0,187.3 771.1,186.4 772.2,187.3 773.3,182.8 774.3,180.1 775.4,178.3 776.5,177.5 777.6,172.1 778.6,166.7 779.7,157.7 780.8,155.0 781.9,163.1 782.9,164.0 784.0,162.2 785.1,155.9 786.2,149.7 787.2,148.4 788.3,147.9 789.4,148.8 790.5,152.0 791.5,156.8 792.6,162.2 793.7,157.7 794.8,159.5 795.8,160.4 796.9,155.9 798.0,147.0 799.1,142.0 800.1,143.4 801.2,147.9 801.9,149.7 803.0,145.2 804.1,143.0 805.2,144.3 806.2,145.2 807.3,146.1 808.4,147.0 809.5,146.1 810.5,145.2 811.6,144.3 812.7,142.5 813.8,141.6 814.8,143.4 815.9,142.5 817.0,142.0 818.1,142.5 819.1,135.3 819.9,132.6 820.7,134.1 821.7,129.1 822.8,127.3 823.9,123.7 825.0,118.3 826.0,115.1 827.1,115.6 828.2,117.4 829.3,116.9 830.3,117.9 831.4,117.4 832.5,116.9 833.6,121.9 834.6,123.3 835.7,122.8 836.8,123.3 837.9,122.8 838.9,125.5 840.0,128.2 841.1,132.6 842.2,140.7 843.2,139.5 844.3,138.0 845.4,138.4 846.5,134.4 847.5,131.7 848.6,130.8 849.7,130.8 850.8,127.3 851.8,123.7 852.9,122.8 854.0,121.9 855.1,120.5 856.2,121.9 857.2,126.4 858.3,129.1 859.4,130.5 860.5,134.4 861.5,140.7 862.6,146.1 863.7,151.5 864.8,147.0 865.8,140.7 866.9,137.1 867.6,135.9 868.7,140.7 869.4,143.0 870.5,141.2 871.6,142.0 872.6,144.3 873.7,148.8 874.8,154.2 875.9,158.6 876.9,155.9 877.7,154.2 878.7,156.8 879.8,159.5 880.5,162.2 881.6,170.3 882.7,176.6 883.8,179.2 884.8,180.7 885.9,178.3 887.0,176.6 888.1,175.7 889.1,173.0 890.2,174.8 891.3,173.9 892.4,172.4 893.4,172.1 894.5,177.5 895.6,182.8 896.7,184.6 897.7,183.7 898.8,190.0 899.9,198.1 901.0,201.6 902.0,195.4 903.1,188.2 904.2,182.8 905.3,180.7 906.3,179.6 907.4,181.0 908.5,182.8 909.6,183.2 910.6,183.7 911.7,186.4 912.8,190.0 913.9,192.7 914.9,197.2 916.0,205.2 917.1,199.9 918.2,198.1 919.2,197.5 920.3,198.6 921.4,194.5 922.5,188.2 923.5,184.6 924.6,183.7 925.7,184.3 926.8,181.0 927.8,176.6 928.6,175.3 929.6,178.3 930.7,180.1 931.8,182.5 932.9,180.1 933.9,176.6 935.0,173.9 936.1,171.7 936.8,170.3 937.9,172.4 938.6,171.2 939.7,173.9 940.8,175.7 941.8,177.5 942.9,178.9 944.0,175.7 945.1,171.2 946.1,166.7 947.2,163.5 948.7,166.1 949.8,169.4 950.8,171.4 951.9,172.3 953.0,172.7 954.0,172.0 955.1,171.0 956.1,169.6 957.2,170.7 958.2,171.4 959.3,170.4 960.4,171.0 961.4,171.8 962.5,170.7 963.5,169.1 964.3,165.4 965.1,156.2 965.9,152.5 967.0,152.5 967.8,156.2 968.6,164.1 969.3,166.1 970.1,163.4 970.9,161.4 972.0,161.7 973.1,161.2 973.8,161.4 974.6,163.4 975.4,167.4 976.2,169.6 977.0,170.7 977.8,170.4 978.6,176.0 979.1,181.0 979.9,176.0 980.7,172.7 981.8,172.0 982.8,171.4 983.9,171.0 984.9,170.4 986.0,170.4 987.1,172.7 987.9,177.3 988.7,181.9 989.4,181.3 990.2,180.6 991.3,181.9 992.4,183.7 993.4,185.2 994.5,186.8 995.3,188.1 996.1,186.8 996.8,185.0 997.9,183.9 998.7,185.0 999.5,184.6 1000.3,178.6 1001.1,172.7 1001.9,169.4 1002.7,168.1 1003.5,169.6 1004.3,172.0 1005.0,174.0 1005.8,175.3 1006.6,178.6 1007.4,183.3 1008.2,181.3 1009.0,179.7 1009.8,179.3 1010.6,181.0 1011.4,182.6 1012.4,185.0 1013.5,187.2 1014.6,188.9 1015.6,191.2 1016.4,188.5 1017.2,186.8 1018.3,185.2 1019.1,184.2 1019.9,185.9 1020.6,190.3 1021.2,183.9 1021.7,187.2 1022.5,183.3 1023.0,188.5 1023.8,192.5 1024.9,195.2 1025.9,197.4 1027.0,198.7 1028.0,198.5 1029.1,199.1 1030.2,199.5 1031.2,198.5 1032.3,199.8 1033.3,202.2 1034.4,205.1 1035.2,208.4 1035.7,210.6"/>
<polyline fill="none" stroke="#eef1f6" stroke-width="1.0" stroke-linejoin="round" points="290.1,580.0 292.1,581.4 294.2,586.9 295.6,584.9 297.7,581.4 300.4,580.0 303.2,578.0 305.3,576.6 307.3,578.7 310.1,579.4 312.9,580.0 315.6,581.4 318.4,584.9 321.1,589.0 323.9,591.8 326.0,595.2 328.0,598.7 330.8,602.1 333.6,602.4 336.3,604.2 339.1,603.5 341.9,603.2 344.6,603.8 346.7,605.6 348.8,611.8 350.8,615.3 352.9,616.6 355.0,615.7 357.0,611.8 359.1,604.9 361.2,598.0 363.3,591.1 365.3,586.3 367.4,584.5 369.5,583.9 371.5,582.1 373.6,580.0 375.7,578.0 377.8,577.3 379.8,577.0 381.9,575.6 384.0,574.2 386.0,575.6 388.1,577.3 390.2,578.7 392.3,580.0 394.3,580.7 396.4,581.1 398.5,581.4 400.5,580.0 402.6,578.0 404.7,574.5 406.8,571.1 408.8,567.6 410.9,566.0 413.0,564.9 415.0,560.7 417.1,557.3 419.2,556.3 421.3,555.5 423.3,553.8 425.4,551.0 427.5,549.7 429.5,546.2 431.6,542.8 433.7,541.7 435.7,542.1 437.8,544.8 439.9,546.2 442.0,547.6 444.0,549.9 446.1,552.2 448.2,554.5 450.2,556.6 452.3,559.1 454.4,561.4 456.5,564.2 458.5,566.2 460.6,569.0 462.7,571.1 464.7,572.9 466.8,574.5 468.9,576.2 471.0,578.0 473.0,580.0 474.1,582.1 476.2,584.2 477.6,584.5 479.0,582.8 481.0,580.0 483.1,578.4 485.2,577.3 487.3,577.0 489.3,576.6 491.4,576.2 493.5,574.8 495.5,571.8 497.6,565.5 499.3,561.4 501.1,560.3 503.1,560.3 505.2,561.0 507.3,562.8 509.4,564.6 511.4,565.5 514.2,566.0 516.9,566.9 519.7,568.3 522.5,569.7 525.2,570.7 528.0,571.5 530.8,571.5 533.5,570.4 536.3,568.3 539.0,566.7 541.8,566.2 544.6,567.3 547.3,569.7 549.4,572.0 551.5,573.6 552.9,572.9 554.9,569.7 557.0,568.7 559.1,568.3 561.1,567.6 563.2,565.5 565.3,563.5 567.3,562.4 569.4,562.8 572.2,564.2 574.9,566.2 577.7,569.0 580.5,570.4 583.2,570.4 586.0,569.7 588.8,569.0 591.5,568.0 594.3,566.9 597.0,566.5 599.8,566.9 602.6,567.6 605.3,568.0 608.1,568.3 610.8,568.3 613.6,569.3 616.4,571.5 619.1,574.8 621.9,578.0 624.7,581.4 626.7,584.9 628.8,586.9 630.9,587.6 632.9,586.7 635.0,584.9 637.1,582.8 639.2,581.1 641.2,580.0 643.3,578.7 645.4,577.6 647.4,577.3 649.5,578.0 652.3,578.4 655.0,578.0 657.5,576.2 660.3,575.2 663.0,575.2 665.8,575.6 668.6,578.0 671.3,580.0 674.1,581.1 676.9,582.1 679.6,582.5 682.4,583.9 685.1,585.6 687.9,586.9 690.7,589.4 693.4,591.1 696.2,590.8 698.9,589.4 701.7,588.3 704.5,587.6 707.2,586.3 710.0,584.5 712.8,582.1 715.5,580.3 718.3,579.8 721.0,580.7 723.8,581.4 726.6,582.1 729.3,581.7 732.1,580.3 733.7,579.8 734.9,586.9 736.2,600.8 737.6,613.2 739.0,622.9 740.4,628.4 741.8,631.1 743.8,632.5 745.9,631.4 748.0,625.6 750.0,618.7 752.1,613.2 754.2,607.7 756.3,602.1 758.3,598.7 760.4,596.9 762.5,597.7 764.5,600.1 765.9,600.8 768.0,599.1 770.8,596.6 773.5,593.9 776.3,589.7 779.0,584.2 781.8,578.0 784.6,573.1 787.3,568.3 790.1,564.9 792.2,566.2 794.2,568.3 796.3,568.7 798.4,566.5 800.4,565.5 802.5,565.3 805.3,565.3 808.0,566.0 810.8,566.5 813.6,566.9 816.3,567.3 819.1,566.9 821.8,564.9 824.6,561.4 826.7,559.3 828.7,558.0 830.8,557.7 832.9,558.6 835.0,560.7 837.0,562.8 838.6,565.8 840.8,569.6 843.1,573.4 845.4,576.4 847.7,578.0 849.9,578.0 852.2,576.4 854.5,574.6 856.8,573.7 859.1,575.7 861.3,580.2 863.6,584.0 865.9,585.6 868.2,585.6 870.4,585.6 872.7,587.4 875.0,590.9 877.3,592.4 879.6,594.7 881.8,598.5 884.1,602.3 886.4,604.5 888.7,604.5 890.9,603.5 893.2,601.9 895.5,602.3 897.8,603.8 900.0,606.8 901.6,607.6 903.8,604.5 906.1,600.0 908.4,596.9 910.7,594.7 913.0,594.4 915.2,595.9 917.5,597.7 919.8,597.4 922.1,595.4 924.3,590.9 926.6,586.3 928.9,582.5 931.2,580.2 933.5,578.0 935.7,575.7 938.0,574.6 940.3,574.9 942.6,575.2 944.8,574.2 947.1,571.9 949.4,570.8 951.7,571.6 954.0,573.1 956.2,573.7 958.5,574.2 960.8,574.9 963.1,575.2 964.6,572.6 966.9,570.1 969.1,570.8 971.4,571.6 973.7,572.6 976.0,574.9 978.2,578.0 980.5,579.8 982.8,580.2 985.1,580.7 987.4,581.8 989.6,584.0 991.9,586.3 994.2,588.3 996.5,589.3 998.7,589.3 1001.0,586.3 1003.3,583.3 1005.6,581.8 1007.9,582.5 1010.1,583.3 1012.4,584.8 1014.7,586.3 1017.0,587.1 1019.2,586.8 1021.5,587.1 1023.8,588.3 1026.1,589.8 1028.4,591.3 1030.6,591.9 1032.9,592.4 1035.6,594.4"/>
<polyline fill="none" stroke="#d9a514" stroke-width="1.15" stroke-linejoin="round" points="290.1,579.4 292.8,580.7 295.6,583.5 298.4,582.1 301.8,580.3 305.3,579.4 308.7,578.7 312.2,578.7 315.6,579.4 318.4,580.7 321.1,584.2 323.9,587.6 326.7,591.8 329.4,595.2 332.2,597.7 334.9,599.4 337.7,600.8 340.5,601.4 343.2,602.1 346.0,602.8 348.8,604.9 351.5,608.4 354.3,611.8 356.4,612.5 358.4,611.1 361.2,606.3 363.9,600.8 366.7,595.2 369.5,591.1 372.2,586.9 375.0,583.5 377.8,580.7 380.5,578.7 383.3,577.3 386.0,576.6 388.8,577.0 391.6,578.0 394.3,579.1 397.1,580.0 399.8,580.3 402.6,579.8 405.4,578.0 408.1,575.2 410.9,572.4 413.7,569.7 416.4,566.2 419.2,562.8 421.9,560.0 424.7,557.3 427.5,554.1 430.2,551.0 433.0,548.0 435.7,546.2 438.5,545.5 441.3,545.8 444.0,547.6 446.8,549.9 449.6,552.7 452.3,555.5 455.1,558.6 457.8,561.8 460.6,564.9 463.4,567.9 466.1,570.4 468.9,572.9 471.7,575.2 474.1,577.3 476.2,579.4 478.3,580.7 480.4,580.7 482.4,580.0 485.2,579.1 488.0,578.7 490.7,578.0 493.5,577.0 496.2,574.5 499.0,570.4 501.8,566.2 504.5,564.2 507.3,564.2 510.0,564.6 512.8,564.9 515.6,565.3 518.3,566.0 521.1,566.9 523.9,568.0 526.6,569.0 529.4,569.7 532.1,569.7 534.9,569.3 537.7,568.3 540.4,567.6 543.2,567.3 545.9,567.6 548.7,568.7 551.5,570.1 553.5,570.7 555.6,570.1 558.4,569.4 561.1,568.7 563.9,567.3 566.7,566.0 569.4,564.9 572.2,564.4 574.9,564.6 577.7,566.0 580.5,567.3 583.2,568.3 586.0,568.7 588.8,568.7 591.5,568.4 594.3,568.0 597.0,567.9 599.8,567.9 602.6,568.0 605.3,568.3 608.1,568.3 610.8,568.3 613.6,568.7 616.4,569.7 619.1,571.8 621.9,574.5 624.7,577.3 627.4,580.0 630.2,582.8 632.9,584.5 635.7,584.2 638.5,583.1 641.2,581.8 644.0,580.7 646.7,579.8 649.5,579.2 652.3,578.9 655.0,578.7 657.5,577.3 660.3,576.6 663.0,576.2 665.8,576.2 668.6,577.0 671.3,578.4 674.1,579.8 676.9,580.7 679.6,581.4 682.4,582.1 685.1,583.5 687.9,584.9 690.7,586.7 693.4,588.1 696.2,588.6 698.9,588.6 701.7,588.3 704.5,588.1 707.2,587.2 710.0,585.8 712.8,584.2 715.5,582.5 718.3,581.4 721.0,581.1 723.8,581.4 726.6,581.7 729.3,581.8 732.1,581.1 734.2,580.7 735.5,584.2 736.9,592.5 738.3,600.8 739.7,607.7 741.1,613.2 743.1,618.0 745.2,620.8 747.3,622.6 749.3,622.9 751.4,621.5 753.5,618.7 755.6,615.3 757.6,611.8 759.7,608.4 761.8,605.2 763.8,603.5 765.9,602.8 768.0,602.1 770.8,600.8 773.5,598.7 776.3,595.9 779.0,592.5 781.8,588.3 784.6,583.5 787.3,578.7 790.1,573.8 792.8,571.1 795.6,570.1 798.4,569.0 801.1,567.6 803.9,566.5 806.7,566.2 809.4,566.2 812.2,566.5 814.9,566.9 817.7,567.3 820.5,566.9 823.2,565.5 826.0,563.5 828.7,561.4 831.5,560.4 834.3,560.4 837.0,561.4 840.1,564.3 843.1,568.1 846.1,571.6 849.2,573.7 852.2,574.9 855.3,574.6 858.3,574.9 861.3,576.4 864.4,579.5 867.4,582.2 870.4,583.7 873.5,585.2 876.5,587.4 879.6,589.8 882.6,593.1 885.6,597.4 888.7,600.0 891.7,601.5 894.7,601.5 897.8,602.3 900.8,604.1 903.1,605.0 905.4,603.8 908.4,601.5 911.4,599.2 914.5,597.7 917.5,597.7 920.5,597.7 923.6,596.2 926.6,593.1 929.7,589.3 932.7,585.2 935.7,581.8 938.8,578.7 941.8,576.7 944.8,575.7 947.9,574.2 950.9,572.6 954.0,572.6 957.0,573.1 960.0,573.7 963.1,574.2 966.1,573.1 969.1,571.9 972.2,571.6 975.2,572.2 978.2,574.2 981.3,576.1 984.3,577.7 987.4,579.5 990.4,581.8 993.4,584.0 996.5,586.3 999.5,587.1 1002.5,585.6 1005.6,584.0 1008.6,583.3 1011.6,583.7 1014.7,584.8 1017.7,585.6 1020.8,585.9 1023.8,586.8 1026.8,588.3 1029.9,589.8 1032.9,590.9 1035.6,591.9"/>
</svg>

<!-- TOOLTIP -->
<div id="tip" class="abs">
  <div style="top:14.6px">日期</div>
  <div style="top:34px">02/10</div>
  <div style="top:53.6px">时间</div>
  <div style="top:73px">15:00</div>
  <div style="top:93.6px">最新</div>
  <div style="top:113px" class="red">1659.61</div>
  <div style="top:133px">均价</div>
  <div style="top:152px" class="red">1664.29</div>
  <div style="top:173px">涨跌</div>
  <div style="top:192px" class="red">+9.56</div>
  <div style="top:212.7px">涨幅</div>
  <div style="top:232px" class="red">+0.58%</div>
  <svg style="position:absolute;left:47px;top:3px" width="10" height="10"><path d="M1 1L9 9M9 1L1 9" stroke="#a3abbb" stroke-width="2"/></svg>
</div>

<!-- MACD BAR -->
<div class="abs" style="left:230px;top:518px;width:876px;height:22px;background:#01152c"></div>
<div id="mbar" class="abs">
  <span class="t" style="left:8px;color:#fa74fa">MACD : -0.287</span>
  <span class="t" style="left:97px">DIF : -0.723</span>
  <span class="t" style="left:167.5px;color:#e2a41f">DEA : -0.579</span>
</div>

<svg class="abs" style="left:1064px;top:521px" width="38" height="17" viewBox="1064 521 38 17">
<circle cx="1072.1" cy="529.2" r="7" fill="#8e9ab0"/>
<path d="M1068.9 526L1075.3 532.4M1075.3 526L1068.9 532.4" stroke="#0f2849" stroke-width="1.4" fill="none"/>
<g fill="#8e9ab0"><circle cx="1093.1" cy="529.3" r="5.7"/>
<g transform="translate(1093.1 529.3)">
<rect x="-2" y="-7.2" width="4" height="14.4" rx="1"/>
<rect x="-2" y="-7.2" width="4" height="14.4" rx="1" transform="rotate(60)"/>
<rect x="-2" y="-7.2" width="4" height="14.4" rx="1" transform="rotate(120)"/>
</g></g>
<circle cx="1093.1" cy="529.3" r="2.1" fill="#0f2849"/>
</svg>
<!-- BOTTOM BAR -->
<div id="bbar" class="abs"></div>
<div class="bt" style="left:231px;width:47px;background:#0088cc"><i style="transform:scaleX(.97)">MACD</i></div>
<div class="bsep" style="left:230px"></div>
<div class="bsep" style="left:278px"></div>
<div class="bt" style="left:279px;width:32px"><i>KDJ</i></div>
<div class="bsep" style="left:311px"></div>
<div class="bt" style="left:312px;width:28px"><i>RSI</i></div>
<div class="bsep" style="left:340px"></div>
<div class="bt" style="left:341px;width:40px"><i style="transform:scaleX(.93)">BOLL</i></div>
<div class="bsep" style="left:381px"></div>

<!-- RIGHT PANEL -->
<div id="rp">
<div class="abs" style="left:1106px;top:28px;width:1px;height:651px;background:#01132a"></div>
<span class="t" style="left:1116px;top:36px;font-size:16px">中证商品期货价格...</span><span class="t" style="left:1264px;top:35px;font-size:16px;letter-spacing:-.75px">CCICFPI</span>
<span class="t red" style="left:1115.5px;top:57.6px;font-size:18.5px">1659.61</span>
<svg class="abs" style="left:1185px;top:60px" width="12" height="12"><path d="M6 0L11.5 6H8V12H4V6H.5z" fill="#ff3355"/></svg>
<span class="t red" style="left:1209px;top:62.5px">9.56</span>
<span class="t red" style="left:1242px;top:62.5px;font-size:12.8px">+0.58%</span>
<div class="hl" style="left:1107px;top:78px;width:276px"></div>
<div class="hl" style="left:1107px;top:196px;width:276px"></div>
<span class="q c" style="left:1117px;top:91.9px">现价</span><span class="qr red" style="right:143px;top:91.5px">1659.61</span><span class="q c" style="left:1252px;top:91.9px">今开</span><span class="qr red" style="right:7px;top:91.5px">1661.53</span><span class="q c" style="left:1117px;top:111.9px">涨跌</span><span class="qr red" style="right:143px;top:111.5px">9.56</span><span class="q c" style="left:1252px;top:111.9px">最高</span><span class="qr red" style="right:7px;top:111.5px">1672.88</span><span class="q c" style="left:1117px;top:132.0px">涨幅</span><span class="qr red" style="right:143px;top:131.6px">0.58%</span><span class="q c" style="left:1252px;top:132.0px">最低</span><span class="qr red" style="right:7px;top:131.6px">1651.42</span><span class="q c" style="left:1117px;top:152.0px">振幅</span><span class="qr wht" style="right:143px;top:151.6px">1.30%</span><span class="q c" style="left:1252px;top:152.0px">均价</span><span class="qr red" style="right:7px;top:151.6px">1664.29</span><span class="q c" style="left:1117px;top:172.1px">结算</span><span class="qr red" style="right:143px;top:171.7px">1663.50</span><span class="q c" style="left:1252px;top:172.1px">昨结</span><span class="qr wht" style="right:7px;top:171.7px">1650.05</span>
<div class="tk" style="top:205.4px"><span class="a">14:59:50</span><span class="b">1659.62</span><span class="c">0</span><svg width="14" height="15" viewBox="0 0 14 15"><path d="M4.6 0H9.4V7.2H14L7 14.5L0 7.2H4.6z" fill="#00cc88"/></svg></div><div class="tk" style="top:226.0px"><span class="a">14:59:51</span><span class="b">1659.59</span><span class="c">0</span><svg width="14" height="15" viewBox="0 0 14 15"><path d="M4.6 0H9.4V7.2H14L7 14.5L0 7.2H4.6z" fill="#00cc88"/></svg></div><div class="tk" style="top:246.5px"><span class="a">14:59:51</span><span class="b">1659.66</span><span class="c">0</span><svg width="14" height="15" viewBox="0 0 14 15"><path d="M4.6 0H9.4V7.2H14L7 14.5L0 7.2H4.6z" fill="#00cc88"/></svg></div><div class="tk" style="top:267.1px"><span class="a">14:59:52</span><span class="b">1659.69</span><span class="c">0</span><svg width="14" height="15" viewBox="0 0 14 15"><path d="M4.6 0H9.4V7.2H14L7 14.5L0 7.2H4.6z" fill="#00cc88"/></svg></div><div class="tk" style="top:287.7px"><span class="a">14:59:52</span><span class="b">1659.67</span><span class="c">0</span><svg width="14" height="15" viewBox="0 0 14 15"><path d="M4.6 0H9.4V7.2H14L7 14.5L0 7.2H4.6z" fill="#00cc88"/></svg></div><div class="tk" style="top:308.2px"><span class="a">14:59:53</span><span class="b">1659.65</span><span class="c">0</span><svg width="14" height="15" viewBox="0 0 14 15"><path d="M4.6 0H9.4V7.2H14L7 14.5L0 7.2H4.6z" fill="#00cc88"/></svg></div><div class="tk" style="top:328.8px"><span class="a">14:59:53</span><span class="b">1659.61</span><span class="c">0</span><svg width="14" height="15" viewBox="0 0 14 15"><path d="M4.6 0H9.4V7.2H14L7 14.5L0 7.2H4.6z" fill="#00cc88"/></svg></div><div class="tk" style="top:349.4px"><span class="a">14:59:54</span><span class="b">1659.60</span><span class="c">0</span><svg width="14" height="15" viewBox="0 0 14 15"><path d="M4.6 0H9.4V7.2H14L7 14.5L0 7.2H4.6z" fill="#00cc88"/></svg></div><div class="tk" style="top:370.0px"><span class="a">14:59:54</span><span class="b">1659.54</span><span class="c">0</span><svg width="14" height="15" viewBox="0 0 14 15"><path d="M4.6 0H9.4V7.2H14L7 14.5L0 7.2H4.6z" fill="#00cc88"/></svg></div><div class="tk" style="top:390.5px"><span class="a">14:59:55</span><span class="b">1659.62</span><span class="c">0</span><svg width="14" height="15" viewBox="0 0 14 15"><path d="M4.6 0H9.4V7.2H14L7 14.5L0 7.2H4.6z" fill="#00cc88"/></svg></div><div class="tk" style="top:411.1px"><span class="a">14:59:55</span><span class="b">1659.59</span><span class="c">0</span><svg width="14" height="15" viewBox="0 0 14 15"><path d="M4.6 0H9.4V7.2H14L7 14.5L0 7.2H4.6z" fill="#00cc88"/></svg></div><div class="tk" style="top:431.7px"><span class="a">14:59:56</span><span class="b">1659.62</span><span class="c">0</span><svg width="14" height="15" viewBox="0 0 14 15"><path d="M4.6 0H9.4V7.2H14L7 14.5L0 7.2H4.6z" fill="#00cc88"/></svg></div><div class="tk" style="top:452.2px"><span class="a">14:59:56</span><span class="b">1659.61</span><span class="c">0</span><svg width="14" height="15" viewBox="0 0 14 15"><path d="M4.6 0H9.4V7.2H14L7 14.5L0 7.2H4.6z" fill="#00cc88"/></svg></div><div class="tk" style="top:472.8px"><span class="a">14:59:57</span><span class="b">1659.74</span><span class="c">0</span><svg width="14" height="15" viewBox="0 0 14 15"><path d="M4.6 0H9.4V7.2H14L7 14.5L0 7.2H4.6z" fill="#00cc88"/></svg></div><div class="tk" style="top:493.4px"><span class="a">14:59:57</span><span class="b">1659.67</span><span class="c">0</span><svg width="14" height="15" viewBox="0 0 14 15"><path d="M4.6 0H9.4V7.2H14L7 14.5L0 7.2H4.6z" fill="#00cc88"/></svg></div><div class="tk" style="top:514.0px"><span class="a">14:59:58</span><span class="b">1659.75</span><span class="c">0</span><svg width="14" height="15" viewBox="0 0 14 15"><path d="M4.6 0H9.4V7.2H14L7 14.5L0 7.2H4.6z" fill="#00cc88"/></svg></div><div class="tk" style="top:534.5px"><span class="a">14:59:58</span><span class="b">1659.64</span><span class="c">0</span><svg width="14" height="15" viewBox="0 0 14 15"><path d="M4.6 0H9.4V7.2H14L7 14.5L0 7.2H4.6z" fill="#00cc88"/></svg></div><div class="tk" style="top:555.1px"><span class="a">14:59:59</span><span class="b">1659.65</span><span class="c">0</span><svg width="14" height="15" viewBox="0 0 14 15"><path d="M4.6 0H9.4V7.2H14L7 14.5L0 7.2H4.6z" fill="#00cc88"/></svg></div><div class="tk" style="top:575.7px"><span class="a">14:59:59</span><span class="b">1659.68</span><span class="c">0</span><svg width="14" height="15" viewBox="0 0 14 15"><path d="M4.6 0H9.4V7.2H14L7 14.5L0 7.2H4.6z" fill="#00cc88"/></svg></div><div class="tk" style="top:596.2px"><span class="a">15:00:00</span><span class="b">1659.72</span><span class="c">0</span><svg width="14" height="15" viewBox="0 0 14 15"><path d="M4.6 0H9.4V7.2H14L7 14.5L0 7.2H4.6z" fill="#00cc88"/></svg></div><div class="tk" style="top:616.8px"><span class="a">15:00:00</span><span class="b">1659.60</span><span class="c">0</span><svg width="14" height="15" viewBox="0 0 14 15"><path d="M4.6 0H9.4V7.2H14L7 14.5L0 7.2H4.6z" fill="#00cc88"/></svg></div><div class="tk" style="top:637.4px"><span class="a">15:00:01</span><span class="b">1659.61</span><span class="c">0</span><svg width="14" height="15" viewBox="0 0 14 15"><path d="M4.6 0H9.4V7.2H14L7 14.5L0 7.2H4.6z" fill="#00cc88"/></svg></div>
</div>
<div class="abs" style="left:1107px;top:654px;width:276px;height:1px;background:#01152c"></div><div class="abs" style="left:1107px;top:655px;width:276px;height:24px;background:#10233f"></div>
<div class="bt" style="left:1107px;width:56px;background:#0088cc;font-size:12px;line-height:26px">盘口</div>
<div class="abs" style="left:0;top:679px;width:1383px;height:1px;background:#031023"></div>
<div class="abs" style="left:0;top:680px;width:1383px;height:1px;background:#182b47"></div>
</body>
</html>
